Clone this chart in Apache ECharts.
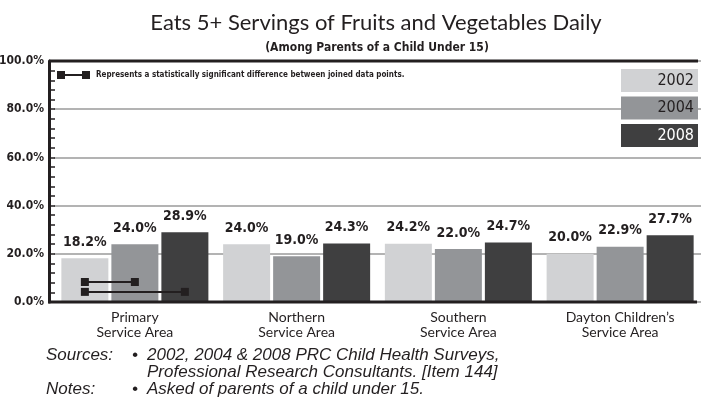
<!DOCTYPE html>
<html>
<head>
<meta charset="utf-8">
<script src="https://cdn.jsdelivr.net/npm/echarts@6/dist/echarts.min.js"></script>
<style>
  html, body { margin: 0; padding: 0; background: #fff; }
  #chart { width: 701px; height: 404px; }
</style>
</head>
<body>
<div id="chart"></div>
<script>
// Service areas along the x axis
const categories = ['Primary\nService Area', 'Northern\nService Area', 'Southern\nService Area', 'Dayton Children\u2019s\nService Area'];
// Survey years (one bar series each)
const years = ['2002', '2004', '2008'];
// Percent eating 5+ servings of fruits and vegetables daily
const values2002 = [18.2, 24.0, 24.2, 20.0];
const values2004 = [24.0, 19.0, 22.0, 22.9];
const values2008 = [28.9, 24.3, 24.7, 27.7];
// Y axis tick values
const yTicks = [0, 20, 40, 60, 80, 100];
// Statistically significant differences: [area index, from year index, to year index, marker level %]
const sigPairs = [
  [0, 0, 1, 8.3],
  [0, 0, 2, 4.2]
];

const seriesValues = [values2002, values2004, values2008];
const colors = ['#d1d2d4', '#939598', '#3f3f40'];
const ink = '#231f20';
const narrow = '"Liberation Sans Narrow", "DejaVu Sans Condensed", sans-serif';
const geo = 'Lato, "Noto Sans", sans-serif';

const BAR_W = 47;
const BAR_GAP_PX = 3;

const chart = echarts.init(document.getElementById('chart'), null, { renderer: 'canvas' });

const barSeries = years.map((y, i) => ({
  name: y,
  type: 'bar',
  data: seriesValues[i],
  barWidth: BAR_W,
  barGap: (BAR_GAP_PX / BAR_W * 100).toFixed(1) + '%',
  itemStyle: { color: colors[i] },
  label: {
    show: true,
    position: 'top',
    distance: 9,
    formatter: p => p.value.toFixed(1) + '%',
    color: ink,
    fontFamily: narrow,
    fontWeight: 'bold',
    fontSize: 14
  },
  z: 2
}));

// Joined markers showing significant differences between years
const sigSeries = {
  name: 'significance',
  type: 'custom',
  data: sigPairs,
  encode: { x: 0, y: 3 },
  z: 10,
  renderItem: function (params, api) {
    const cat = api.value(0);
    const p = api.coord([cat, api.value(3)]);
    const step = BAR_W + BAR_GAP_PX;
    const x1 = p[0] + (api.value(1) - 1) * step;
    const x2 = p[0] + (api.value(2) - 1) * step;
    const s = 8;
    return {
      type: 'group',
      children: [
        { type: 'line', shape: { x1: x1, y1: p[1], x2: x2, y2: p[1] }, style: { stroke: ink, lineWidth: 2 } },
        { type: 'rect', shape: { x: x1 - s / 2, y: p[1] - s / 2, width: s, height: s }, style: { fill: ink } },
        { type: 'rect', shape: { x: x2 - s / 2, y: p[1] - s / 2, width: s, height: s }, style: { fill: ink } }
      ]
    };
  }
};

const footFont = 'italic 17px "Liberation Sans", Arial, sans-serif';

chart.setOption({
  animation: false,
  backgroundColor: '#fff',
  title: [
    {
      text: 'Eats 5+ Servings of Fruits and Vegetables Daily',
      left: 371, top: 7, textAlign: 'center',
      textStyle: { fontFamily: geo, fontWeight: 'normal', fontSize: 22, color: ink }
    },
    {
      text: '(Among Parents of a Child Under 15)',
      left: 372, top: 37, textAlign: 'center',
      textStyle: { fontFamily: narrow, fontWeight: 'bold', fontSize: 12, color: ink }
    }
  ],
  legend: {
    orient: 'vertical',
    right: 3,
    top: 69,
    padding: 0,
    itemGap: 4.5,
    itemWidth: 0,
    itemHeight: 0,
    icon: 'rect',
    selectedMode: false,
    formatter: '{t|{name}}',
    data: years.map((y, i) => ({
      name: y,
      textStyle: {
        rich: {
          t: {
            width: 73, height: 23, lineHeight: 23,
            align: 'right',
            padding: [0, 4, 0, 0],
            backgroundColor: colors[i],
            color: i === 2 ? '#fff' : ink,
            fontFamily: narrow,
            fontSize: 16
          }
        }
      }
    }))
  },
  grid: { left: 54, right: 0, top: 61, bottom: 102, outerBoundsMode: 'none', containLabel: false },
  xAxis: {
    type: 'category',
    data: categories,
    axisLine: { show: false },
    axisTick: { show: false },
    axisLabel: { color: ink, fontFamily: geo, fontSize: 14, lineHeight: 15, margin: 8, interval: 0 }
  },
  yAxis: {
    type: 'value',
    min: yTicks[0],
    max: yTicks[yTicks.length - 1],
    interval: yTicks[1] - yTicks[0],
    offset: 5,
    axisLine: { show: true, lineStyle: { color: ink, width: 3 } },
    axisTick: { show: true, inside: true, length: 6, lineStyle: { color: ink, width: 1.5 } },
    minorTick: { show: true, splitNumber: 5, length: 6, lineStyle: { color: ink, width: 1.5 } },
    splitLine: { show: true, lineStyle: { color: '#b3b3b3', width: 2 } },
    axisLabel: {
      formatter: v => v.toFixed(1) + '%',
      color: ink, fontFamily: narrow, fontWeight: 'bold', fontSize: 12,
      margin: 5, padding: [8, 0, 0, 0]
    }
  },
  series: [...barSeries, sigSeries],
  graphic: [
    // frame: top border and baseline
    { type: 'line', z: 20, shape: { x1: 49, y1: 61, x2: 698, y2: 61 }, style: { stroke: ink, lineWidth: 3 } },
    { type: 'line', z: 20, shape: { x1: 48, y1: 302, x2: 697, y2: 302 }, style: { stroke: ink, lineWidth: 3 } },
    // key for the significance markers
    { type: 'line', z: 20, shape: { x1: 61, y1: 75, x2: 86, y2: 75 }, style: { stroke: ink, lineWidth: 2 } },
    { type: 'rect', z: 20, shape: { x: 57, y: 71, width: 8, height: 8 }, style: { fill: ink } },
    { type: 'rect', z: 20, shape: { x: 82, y: 71, width: 8, height: 8 }, style: { fill: ink } },
    { type: 'text', z: 20, x: 96, y: 75, style: {
        text: 'Represents a statistically significant difference between joined data points.',
        font: 'bold 8px ' + narrow, fill: ink, verticalAlign: 'middle' } },
    // sources and notes
    { type: 'text', x: 46, y: 355, style: { text: 'Sources:', font: footFont, fill: ink, verticalAlign: 'middle' } },
    { type: 'text', x: 132, y: 355, style: { text: '\u2022', font: footFont, fill: ink, verticalAlign: 'middle' } },
    { type: 'text', x: 147, y: 355, style: { text: '2002, 2004 & 2008 PRC Child Health Surveys,', font: footFont, fill: ink, verticalAlign: 'middle' } },
    { type: 'text', x: 147, y: 372, style: { text: 'Professional Research Consultants. [Item 144]', font: footFont, fill: ink, verticalAlign: 'middle' } },
    { type: 'text', x: 46, y: 389, style: { text: 'Notes:', font: footFont, fill: ink, verticalAlign: 'middle' } },
    { type: 'text', x: 132, y: 389, style: { text: '\u2022', font: footFont, fill: ink, verticalAlign: 'middle' } },
    { type: 'text', x: 147, y: 389, style: { text: 'Asked of parents of a child under 15.', font: footFont, fill: ink, verticalAlign: 'middle' } }
  ]
});
</script>
</body>
</html>
